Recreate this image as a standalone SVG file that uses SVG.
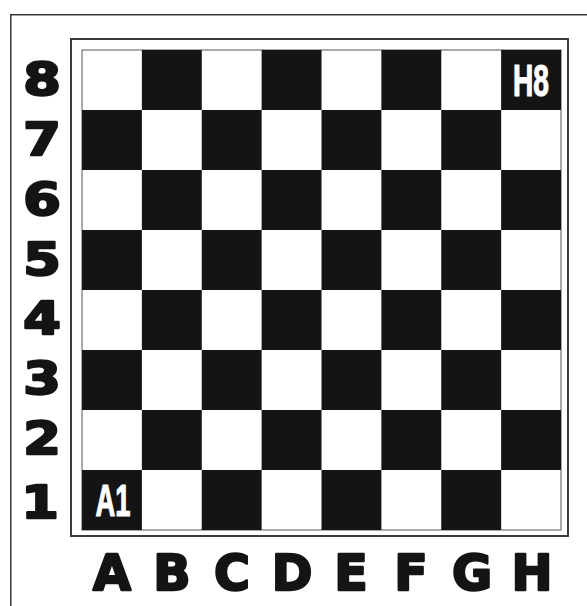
<svg xmlns="http://www.w3.org/2000/svg" width="587" height="606" viewBox="0 0 587 606">
<style>
.bk{fill:#141414}
.lbl{font-family:"DejaVu Sans","Liberation Sans",sans-serif;font-weight:bold;fill:#141414;stroke:#141414;stroke-width:2.4;stroke-linejoin:round;text-anchor:middle}
.row{font-size:45px}
.col{font-size:49px}
.cell{font-family:"Liberation Sans","DejaVu Sans",sans-serif;font-weight:bold;font-size:44px;fill:#fff;stroke:#fff;stroke-width:1.2;stroke-linejoin:round;text-anchor:middle}
</style>
<rect x="0" y="0" width="587" height="606" fill="#fff"/>
<rect x="10.75" y="14.75" width="600" height="620" fill="none" stroke="#3a3a3a" stroke-width="1.5"/>
<rect x="71" y="39" width="497" height="497" fill="none" stroke="#3a3a3a" stroke-width="2"/>
<g id="board">
<rect x="82" y="50" width="479" height="480" fill="#fff" stroke="#555" stroke-width="1"/>
<rect class="bk" x="141.875" y="50" width="59.9" height="60"/>
<rect class="bk" x="261.625" y="50" width="59.9" height="60"/>
<rect class="bk" x="381.375" y="50" width="59.9" height="60"/>
<rect class="bk" x="501.125" y="50" width="59.9" height="60"/>
<rect class="bk" x="82" y="110" width="59.9" height="60"/>
<rect class="bk" x="201.75" y="110" width="59.9" height="60"/>
<rect class="bk" x="321.5" y="110" width="59.9" height="60"/>
<rect class="bk" x="441.25" y="110" width="59.9" height="60"/>
<rect class="bk" x="141.875" y="170" width="59.9" height="60"/>
<rect class="bk" x="261.625" y="170" width="59.9" height="60"/>
<rect class="bk" x="381.375" y="170" width="59.9" height="60"/>
<rect class="bk" x="501.125" y="170" width="59.9" height="60"/>
<rect class="bk" x="82" y="230" width="59.9" height="60"/>
<rect class="bk" x="201.75" y="230" width="59.9" height="60"/>
<rect class="bk" x="321.5" y="230" width="59.9" height="60"/>
<rect class="bk" x="441.25" y="230" width="59.9" height="60"/>
<rect class="bk" x="141.875" y="290" width="59.9" height="60"/>
<rect class="bk" x="261.625" y="290" width="59.9" height="60"/>
<rect class="bk" x="381.375" y="290" width="59.9" height="60"/>
<rect class="bk" x="501.125" y="290" width="59.9" height="60"/>
<rect class="bk" x="82" y="350" width="59.9" height="60"/>
<rect class="bk" x="201.75" y="350" width="59.9" height="60"/>
<rect class="bk" x="321.5" y="350" width="59.9" height="60"/>
<rect class="bk" x="441.25" y="350" width="59.9" height="60"/>
<rect class="bk" x="141.875" y="410" width="59.9" height="60"/>
<rect class="bk" x="261.625" y="410" width="59.9" height="60"/>
<rect class="bk" x="381.375" y="410" width="59.9" height="60"/>
<rect class="bk" x="501.125" y="410" width="59.9" height="60"/>
<rect class="bk" x="82" y="470" width="59.9" height="60"/>
<rect class="bk" x="201.75" y="470" width="59.9" height="60"/>
<rect class="bk" x="321.5" y="470" width="59.9" height="60"/>
<rect class="bk" x="441.25" y="470" width="59.9" height="60"/>
<text class="cell" x="531" y="96" textLength="36" lengthAdjust="spacingAndGlyphs">H8</text>
<text class="cell" x="113" y="516" textLength="35" lengthAdjust="spacingAndGlyphs">A1</text>
</g>
<g id="ranks">
<text class="lbl row" transform="translate(42,95) scale(1.2,1)">8</text>
<text class="lbl row" transform="translate(42,155) scale(1.2,1)">7</text>
<text class="lbl row" transform="translate(42,215) scale(1.2,1)">6</text>
<text class="lbl row" transform="translate(42,275) scale(1.2,1)">5</text>
<text class="lbl row" transform="translate(42,334) scale(1.2,1)">4</text>
<text class="lbl row" transform="translate(42,394) scale(1.2,1)">3</text>
<text class="lbl row" transform="translate(42,454) scale(1.2,1)">2</text>
<text class="lbl row" transform="translate(40,518) scale(1.2,1)">1</text>
</g>
<g id="files">
<text class="lbl col" x="112" y="590">A</text>
<text class="lbl col" x="172" y="590">B</text>
<text class="lbl col" x="232" y="590">C</text>
<text class="lbl col" x="292" y="590">D</text>
<text class="lbl col" x="351" y="590">E</text>
<text class="lbl col" x="411" y="590">F</text>
<text class="lbl col" x="472" y="590">G</text>
<text class="lbl col" x="532" y="590">H</text>
</g>
</svg>
